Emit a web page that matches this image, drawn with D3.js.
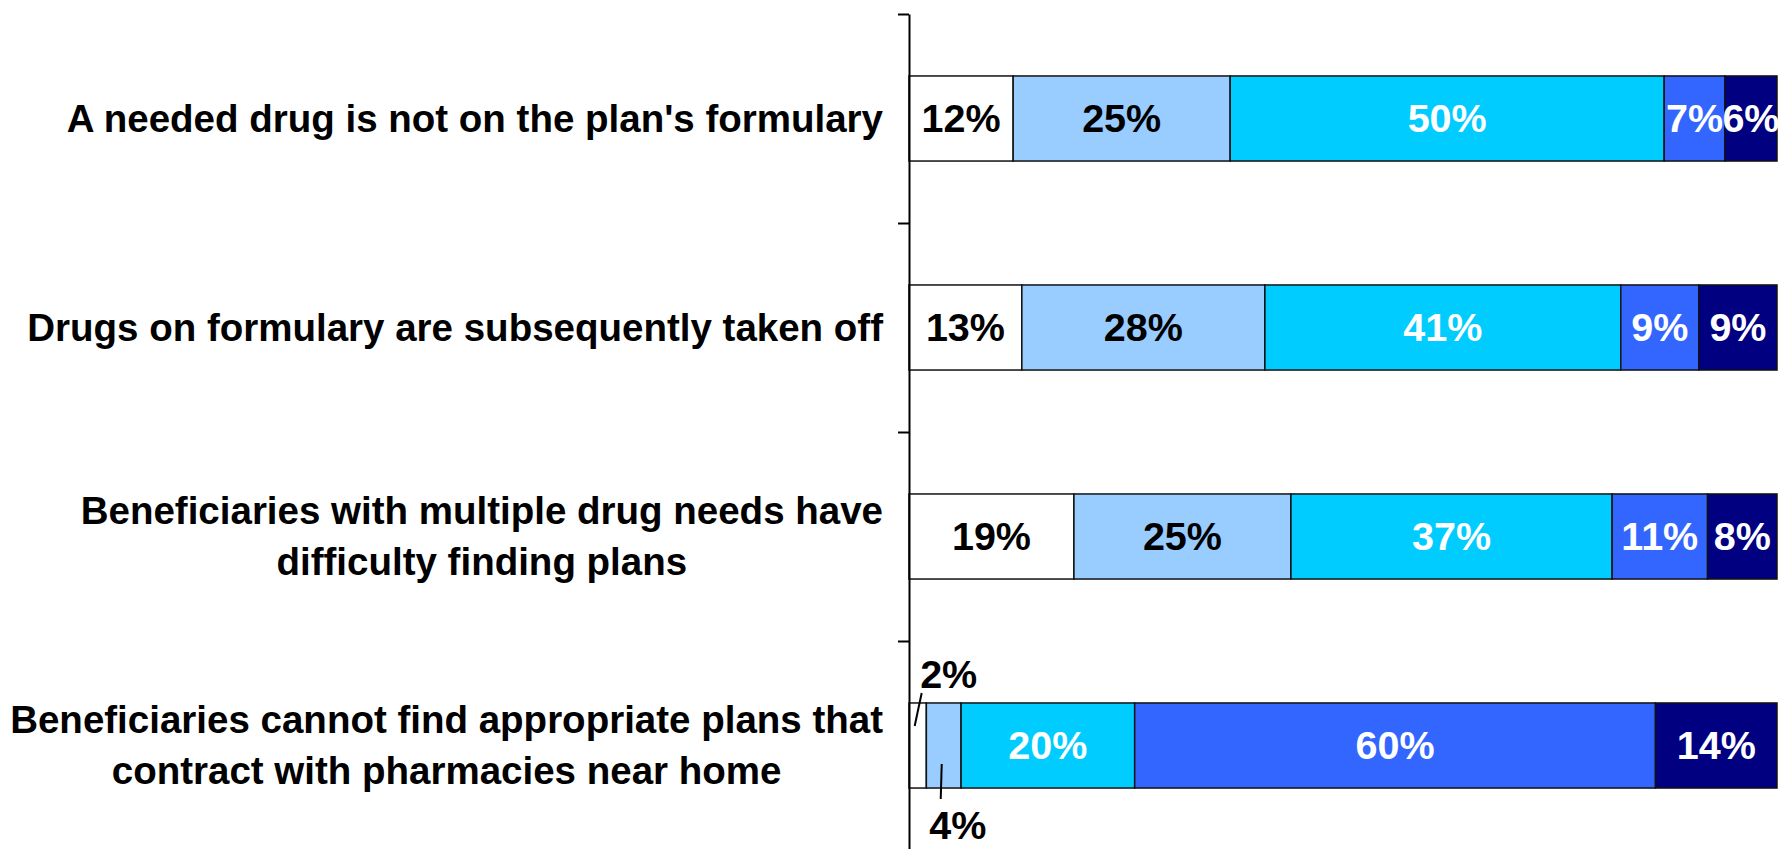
<!DOCTYPE html>
<html>
<head>
<meta charset="utf-8">
<script src="https://cdn.jsdelivr.net/npm/d3@7"></script>
<style>
  html, body { margin: 0; padding: 0; background: #ffffff; }
  svg { display: block; }
  text { font-family: "Liberation Sans", Arial, sans-serif; font-weight: bold; }
</style>
</head>
<body>
<svg id="chart" width="1782" height="849"></svg>
<script>
// Survey concerns about Part D plan formularies and pharmacy networks
const categories = [
  ["A needed drug is not on the plan's formulary"],
  ["Drugs on formulary are subsequently taken off"],
  ["Beneficiaries with multiple drug needs have", "difficulty finding plans"],
  ["Beneficiaries cannot find appropriate plans that", "contract with pharmacies near home"]
];
const seriesNames = ["Not at all", "Minor", "Moderate", "Major", "Don't know"];
const seriesColors = ["#FFFFFF", "#99CCFF", "#00CCFF", "#3366FF", "#000080"];
const labelColors = ["#000000", "#000000", "#FFFFFF", "#FFFFFF", "#FFFFFF"];

const values = [
  [12, 25, 50, 7, 6],
  [13, 28, 41, 9, 9],
  [19, 25, 37, 11, 8],
  [2, 4, 20, 60, 14]
];
// Labels of the thin segments in the last bar sit outside it with a leader line
const outsideLabels = { "3-0": "above", "3-1": "below" };

const svg = d3.select("#chart");
const axisX = 909, barRight = 1777, plotTop = 14, plotBottom = 850;

const x = d3.scaleLinear().domain([0, 100]).range([axisX, barRight]);
const y = d3.scaleBand().domain(d3.range(categories.length)).range([plotTop, plotBottom])
  .paddingInner(0.593).paddingOuter(0.2965);
const yEdge = d3.scaleLinear().domain([0, categories.length]).range([plotTop, plotBottom]);

const fontSize = 38.5;
const valueFontSize = 39.5;

// Stacked segments
values.forEach((row, i) => {
  const stacked = d3.cumsum(row);
  const g = svg.append("g");
  row.forEach((v, j) => {
    const x0 = x(stacked[j] - v), x1 = x(stacked[j]);
    g.append("rect")
      .attr("x", x0).attr("y", y(i))
      .attr("width", x1 - x0).attr("height", y.bandwidth())
      .attr("fill", seriesColors[j])
      .attr("stroke", "#111").attr("stroke-width", 1.5);
  });
  row.forEach((v, j) => {
    const cx = (x(stacked[j] - v) + x(stacked[j])) / 2;
    const cy = y(i) + y.bandwidth() / 2;
    const pos = outsideLabels[i + "-" + j];
    if (pos === "above") {
      g.append("line").attr("x1", cx + 4).attr("y1", y(i) - 10)
        .attr("x2", cx - 3).attr("y2", y(i) + 23)
        .attr("stroke", "#000").attr("stroke-width", 2);
      g.append("text").attr("x", cx + 31).attr("y", y(i) - 15)
        .attr("text-anchor", "middle").attr("font-size", valueFontSize)
        .attr("fill", "#000").text(v + "%");
    } else if (pos === "below") {
      g.append("line").attr("x1", cx - 2).attr("y1", y(i) + 61)
        .attr("x2", cx - 3).attr("y2", y(i) + y.bandwidth() + 11)
        .attr("stroke", "#000").attr("stroke-width", 2);
      g.append("text").attr("x", cx + 14).attr("y", y(i) + y.bandwidth() + 51)
        .attr("text-anchor", "middle").attr("font-size", valueFontSize)
        .attr("fill", "#000").text(v + "%");
    } else {
      g.append("text").attr("x", cx).attr("y", cy).attr("dy", "0.34em")
        .attr("text-anchor", "middle").attr("font-size", valueFontSize)
        .attr("fill", labelColors[j]).text(v + "%");
    }
  });
});

// Category axis with ticks between categories
const axis = d3.axisLeft(yEdge).tickValues(d3.range(categories.length + 1))
  .tickFormat("").tickSize(11).tickSizeOuter(0);
const ag = svg.append("g").attr("transform", `translate(${axisX},0)`).call(axis);
ag.select(".domain").attr("stroke", "#000").attr("stroke-width", 2);
ag.selectAll(".tick line").attr("stroke", "#000").attr("stroke-width", 2);

// Category labels, centred lines in a block right-aligned to the axis gap
const labelRight = 883, lineGap = 51;
categories.forEach((lines, i) => {
  const cy = y(i) + y.bandwidth() / 2;
  const g = svg.append("g");
  const texts = lines.map((ln, k) => g.append("text")
    .attr("y", cy + (k - (lines.length - 1) / 2) * lineGap)
    .attr("dy", "0.34em").attr("font-size", fontSize)
    .attr("text-anchor", "middle").attr("fill", "#000").text(ln));
  const maxW = d3.max(texts, t => t.node().getComputedTextLength());
  texts.forEach(t => t.attr("x", labelRight - maxW / 2));
});
</script>
</body>
</html>
